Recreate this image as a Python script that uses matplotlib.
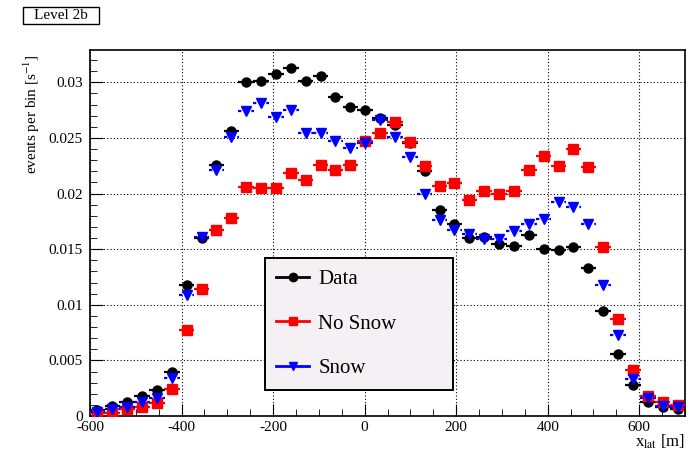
import numpy as np
import matplotlib
matplotlib.use("Agg")
from matplotlib import pyplot as plt
from matplotlib.ticker import MultipleLocator, FuncFormatter
from matplotlib.lines import Line2D
from matplotlib.patches import Rectangle

# bin centres in x_lat [m], 40 bins from -600 to 700
x_edges = np.linspace(-600, 700, 41)
x_lat = 0.5 * (x_edges[:-1] + x_edges[1:])

data = [0.0005, 0.0009, 0.0013, 0.0018, 0.0023, 0.0040, 0.0118, 0.0160, 0.0226, 0.0256,
        0.0300, 0.0301, 0.0307, 0.0313, 0.0301, 0.0306, 0.0287, 0.0278, 0.0275, 0.0268,
        0.0262, 0.0245, 0.0220, 0.0185, 0.0173, 0.0160, 0.0161, 0.0155, 0.0153, 0.0163,
        0.0150, 0.0149, 0.0152, 0.0133, 0.0094, 0.0056, 0.0028, 0.0013, 0.0008, 0.0006]

no_snow = [0.0003, 0.0003, 0.0006, 0.0008, 0.0012, 0.0024, 0.0077, 0.0114, 0.0167, 0.0178,
           0.0206, 0.0205, 0.0205, 0.0218, 0.0212, 0.0226, 0.0221, 0.0226, 0.0247, 0.0254,
           0.0264, 0.0246, 0.0225, 0.0207, 0.0209, 0.0194, 0.0202, 0.0200, 0.0202, 0.0221,
           0.0234, 0.0225, 0.0240, 0.0224, 0.0152, 0.0087, 0.0041, 0.0018, 0.0013, 0.0010]

snow = [0.0004, 0.0006, 0.0008, 0.0013, 0.0016, 0.0034, 0.0109, 0.0161, 0.0221, 0.0251,
        0.0274, 0.0281, 0.0269, 0.0275, 0.0254, 0.0254, 0.0247, 0.0241, 0.0245, 0.0266,
        0.0251, 0.0233, 0.0200, 0.0176, 0.0167, 0.0164, 0.0159, 0.0159, 0.0166, 0.0173,
        0.0177, 0.0192, 0.0188, 0.0173, 0.0118, 0.0073, 0.0033, 0.0016, 0.0009, 0.0008]

plt.rcParams['font.family'] = ['Liberation Serif', 'DejaVu Serif']
plt.rcParams['mathtext.fontset'] = 'stix'
plt.rcParams['axes.unicode_minus'] = False

fig = plt.figure(figsize=(6.92, 4.55), dpi=100)
ax = fig.add_axes([90/692, 1-416/455, 595/692, 366/455])

xe = 17
ax.errorbar(x_lat, data, xerr=xe, fmt='o', color='black', ms=6.5, lw=1.6,
            capsize=0, zorder=3)
ax.errorbar(x_lat, no_snow, xerr=xe, fmt='s', color='#ff0000', ms=7, lw=1.6,
            capsize=0, zorder=4)
eb = ax.errorbar(x_lat, snow, xerr=xe, fmt='v', color='#0000ff', ms=7, lw=1.6,
                 capsize=0, zorder=5)
eb[2][0].set_linestyle((0, (1.5, 1.5)))

ax.set_xlim(-600, 700)
ax.set_ylim(0, 0.0329)
ax.xaxis.set_major_locator(MultipleLocator(200))
ax.xaxis.set_minor_locator(MultipleLocator(50))
ax.yaxis.set_major_locator(MultipleLocator(0.005))
ax.yaxis.set_minor_locator(MultipleLocator(0.001))
ax.yaxis.set_major_formatter(FuncFormatter(lambda v, p: '0' if abs(v) < 1e-9 else ('%.3f' % v).rstrip('0')))
ax.tick_params(which='both', direction='in', labelsize=11)
ax.tick_params(which='major', length=9)
ax.tick_params(which='minor', length=5)
ax.tick_params(axis='y', pad=5)
ax.grid(True, which='major', color='black', ls=(0, (1, 2)), lw=0.8)
for s in ax.spines.values():
    s.set_linewidth(1.2)

ax.set_ylabel('events per bin [s$^{-1}$]', fontsize=11)
ax.yaxis.set_label_coords(-0.081, 0.826)
ax.set_xlabel('x$_{\\mathrm{lat}}$ [m]', fontsize=12, loc='right')
ax.xaxis.set_label_coords(1.0, -0.045)

handles = [Line2D([], [], color='black', marker='o', ms=6, lw=2),
           Line2D([], [], color='#ff0000', marker='s', ms=6, lw=2),
           Line2D([], [], color='#0000ff', marker='v', ms=6, lw=2)]
leg = ax.legend(handles, ['Data', 'No Snow', 'Snow'], loc='upper left',
                bbox_to_anchor=(175/595, 27/366, 188/595, 131/366), borderaxespad=0,
                mode='expand', fontsize=15, frameon=True, fancybox=False, handlelength=1.55,
                labelspacing=1.2, borderpad=0.55, handletextpad=0.45)
leg.get_frame().set_facecolor('#f5f0f3')
leg.get_frame().set_edgecolor('black')
leg.get_frame().set_linewidth(1.4)
leg.get_frame().set_alpha(1)

fig.patches.append(Rectangle((23/692, 1-24/455), 76/692, 17/455, transform=fig.transFigure,
                             fc='white', ec='black', lw=1))
fig.text(61/692, 1-15.5/455, 'Level 2b', fontsize=11, ha='center', va='center')

fig.savefig('out.png', dpi=100)
